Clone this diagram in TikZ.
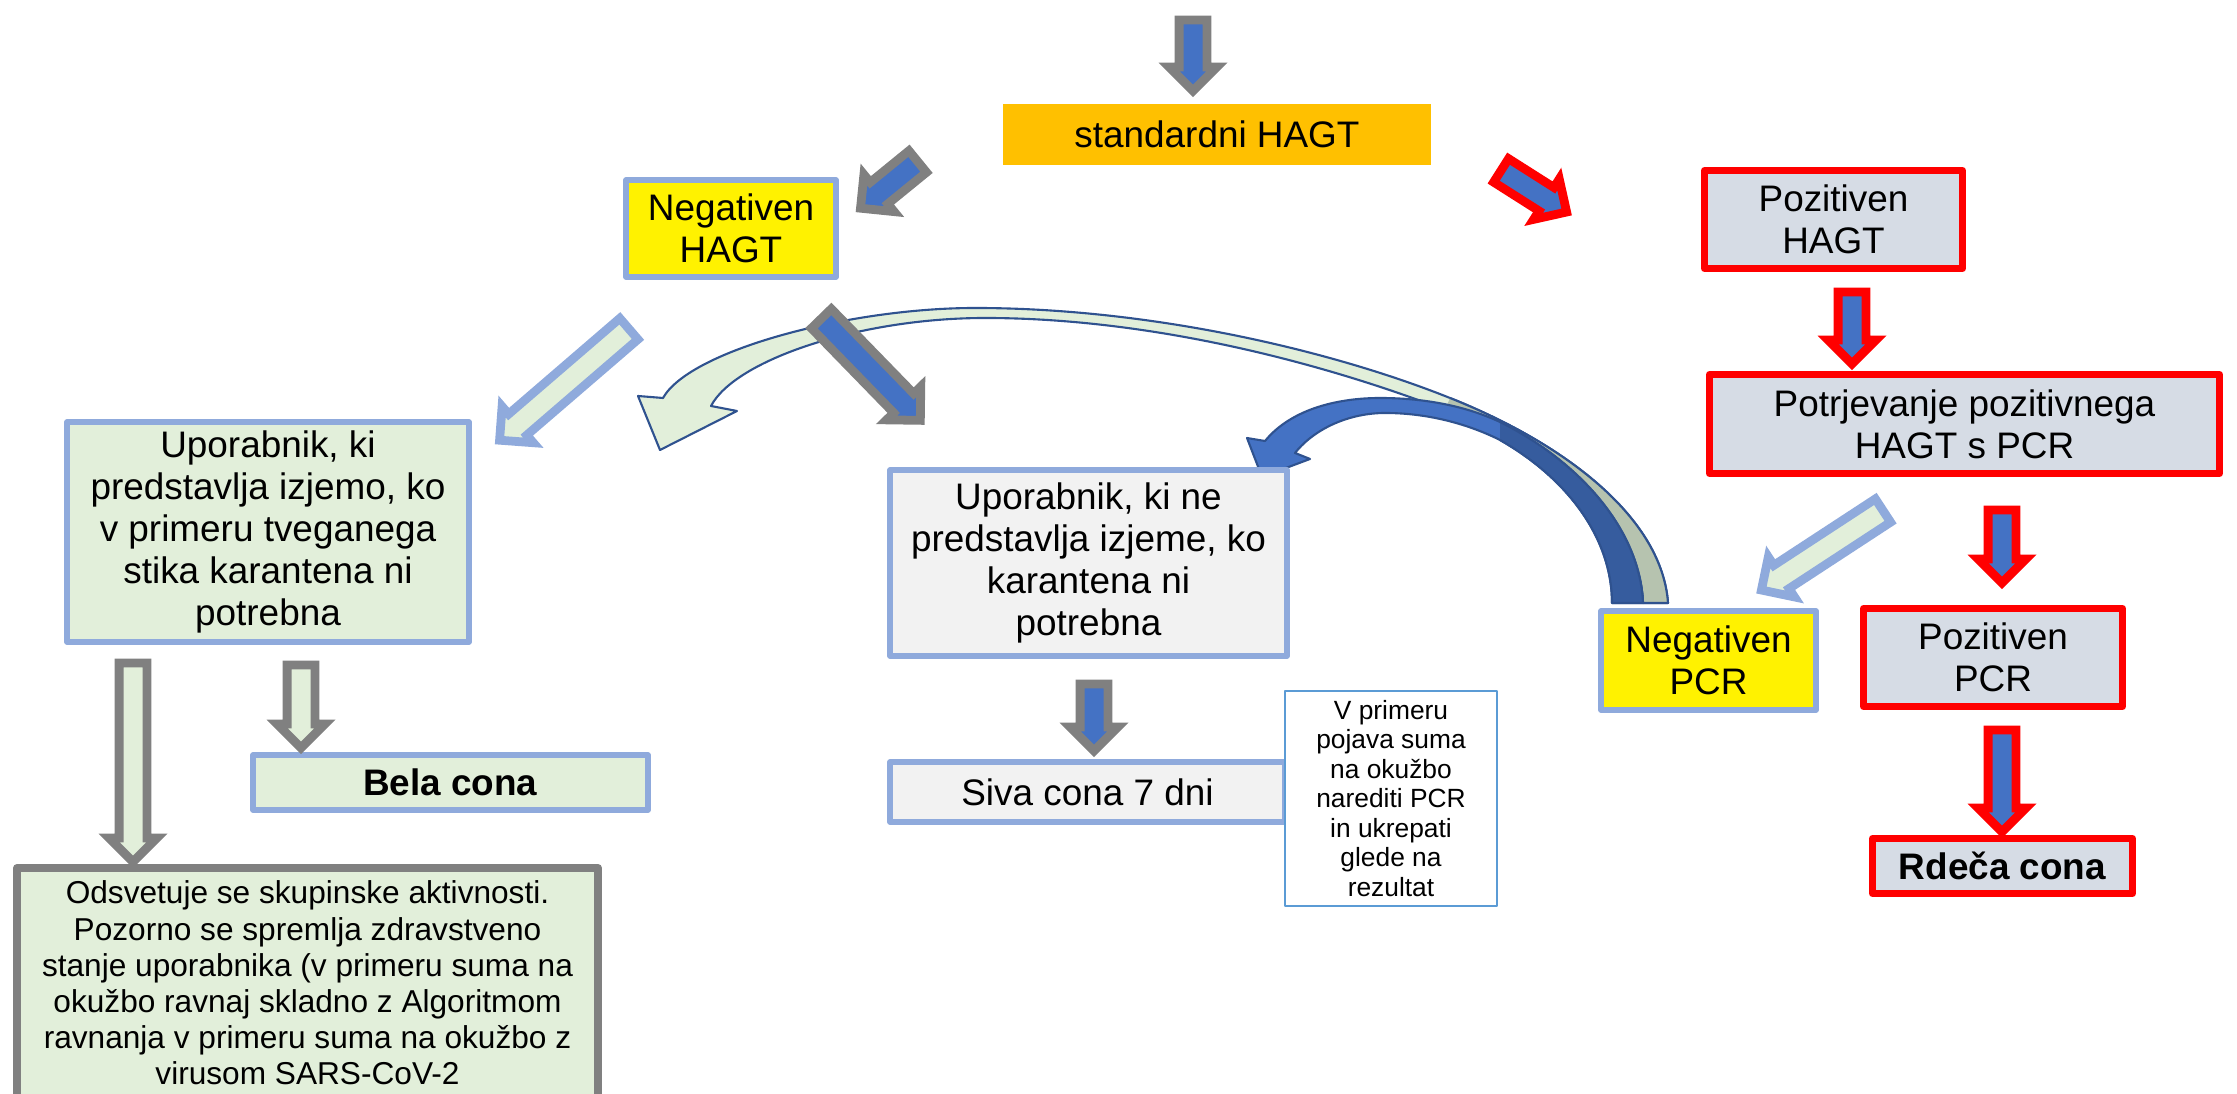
\documentclass[tikz,border=0pt]{standalone}
\usepackage{fontspec}
\setmainfont{Liberation Sans}
\usepackage{tikz}
\usetikzlibrary{calc}
\usetikzlibrary{shapes.arrows}

\definecolor{hagtorange}{HTML}{FFC000}
\definecolor{boxblue}{HTML}{8FAADC}
\definecolor{palegreen}{HTML}{E2EFDA}
\definecolor{palegrey}{HTML}{F2F2F2}
\definecolor{paleslate}{HTML}{D6DCE5}
\definecolor{arrowblue}{HTML}{4472C4}
\definecolor{arrowgrey}{HTML}{808080}
\definecolor{noteblue}{HTML}{5B9BD5}
\definecolor{curveline}{HTML}{2F528F}
\definecolor{backgreen}{HTML}{B6C3AF}
\definecolor{backblue}{HTML}{365C9E}

\tikzset{
  box/.style={draw=boxblue, line width=1.6pt, line join=round, align=center,
    inner sep=0pt, font=\fontsize{10.5}{12}\selectfont},
  redbox/.style={box, draw=red, line width=2pt, fill=paleslate},
  barrow/.style={single arrow, draw, line width=2.5pt, inner sep=0.95mm,
    minimum width=3.9mm, single arrow head extend=1mm,
    single arrow tip angle=90, outer sep=0pt},
  greyblue/.style={barrow, draw=arrowgrey, fill=arrowblue},
  redblue/.style={barrow, draw=red, fill=arrowblue},
  bluegreen/.style={barrow, draw=boxblue, fill=palegreen},
  greygreen/.style={barrow, draw=arrowgrey, fill=palegreen},
  curv/.style={draw=curveline, line width=0.6pt, line join=round}
}

% block arrow between two named points
\newcommand{\blockarrow}[3]{%
  \path let \p1=($(#3)-(#2)$), \n1={veclen(\x1,\y1)-1mm} in
    (#2) -- node[sloped, allow upside down, #1, minimum height=\n1] {} (#3);}

\begin{document}
\begin{tikzpicture}[x=0.1mm, y=-0.1mm]
        \useasboundingbox (0,0) rectangle (2237,1094);

        % curved arrows from Negativen PCR
        \draw[curv, fill=palegreen] (1668,603) .. controls (1662,520) and
        (1570,446) .. (1450,398) .. controls (1330,350) and (1150,308) ..
        (975,308) .. controls (850,308) and (690,350) .. (663,398) --
        (638,396) -- (660,450) -- (737,411) -- (711,406) .. controls
        (735,360) and (860,318) .. (985,318) .. controls (1150,318) and
        (1320,362) .. (1445,410) .. controls (1560,458) and (1640,525) ..
        (1643,603) -- cycle;
        \fill[backgreen] (1668,603) .. controls (1662,520) and (1570,446) ..
        (1450,398) -- (1445,410) .. controls (1560,458) and (1640,525) ..
        (1643,603) -- cycle;
        \draw[curv] (1643,603) .. controls (1640,525) and (1560,458) ..
        (1445,410); \draw[curv] (1450,398) .. controls (1570,446) and
        (1662,520) .. (1668,603) -- (1643,603);

        \draw[curv, fill=arrowblue] (1643,603) .. controls (1640,530) and
        (1580,462) .. (1500,422) .. controls (1470,408) and (1430,398) ..
        (1380,398) .. controls (1340,398) and (1292,408) .. (1265,441) --
        (1247,438) -- (1262,477) -- (1310,459) -- (1295,453) .. controls
        (1315,428) and (1350,413) .. (1385,413) .. controls (1430,413) and
        (1470,425) .. (1500,440) .. controls (1570,480) and (1612,540) ..
        (1612,603) -- cycle;
        \fill[backblue] (1643,603) .. controls (1640,530) and (1580,462) ..
        (1500,422) -- (1500,440) .. controls (1570,480) and (1612,540) ..
        (1612,603) -- cycle;
        \draw[curv] (1500,422) .. controls (1580,462) and (1640,530) ..
        (1643,603) -- (1612,603) .. controls (1612,540) and (1570,480) ..
        (1500,440);

        % boxes
        \node[box, draw=none, fill=hagtorange, minimum width=42.8mm,
        minimum height=6.1mm] (std) at (1217,134.5) {standardni HAGT};

        \node[box, fill=yellow, minimum width=21mm, minimum height=9.7mm]
        (neghagt) at (731,228.5) {Negativen\\HAGT};

        \node[redbox, minimum width=25.8mm, minimum height=9.8mm] (pozhagt)
        at (1833.5,219.5) {Pozitiven\\HAGT};

        \node[redbox, minimum width=51mm, minimum height=9.9mm] (potrj) at
        (1964.5,424) {Potrjevanje pozitivnega\\HAGT s PCR};

        \node[box, fill=yellow, minimum width=21.5mm, minimum height=9.9mm]
        (negpcr) at (1708.5,660.5) {Negativen\\PCR};

        \node[redbox, minimum width=25.9mm, minimum height=9.8mm] (pozpcr)
        at (1993,657.5) {Pozitiven\\PCR};

        \node[redbox, minimum width=26mm, minimum height=5.5mm] (rdeca) at
        (2002.5,866) {\textbf{Rdeča cona}};

        \node[box, fill=palegreen, minimum width=40.2mm, minimum height=22mm]
        (izjema) at (268,532) {Uporabnik, ki\\predstavlja izjemo, ko\\v
        primeru tveganega\\stika karantena ni\\potrebna};

        \node[box, fill=palegrey, minimum width=39.7mm, minimum height=18.6mm]
        (neizjema) at (1088.5,563) {Uporabnik, ki ne\\predstavlja izjeme,
        ko\\karantena ni\\potrebna};

        \node[box, fill=palegrey, minimum width=39.5mm, minimum height=6mm]
        (siva) at (1087.5,792) {Siva cona 7 dni};

        \node[box, draw=noteblue, line width=0.6pt, fill=white,
        minimum width=21.2mm, minimum height=21.5mm,
        font=\fontsize{7.5}{8.4}\selectfont] (opomba) at (1391,798.5) {V
        primeru\\pojava suma\\na okužbo\\narediti PCR\\in ukrepati\\glede
        na\\rezultat};

        \node[box, fill=palegreen, minimum width=39.5mm, minimum height=5.5mm]
        (bela) at (450.5,782.5) {\textbf{Bela cona}};

        \node[box, draw=arrowgrey, line width=2.3pt, fill=palegreen,
        anchor=north, minimum width=58.1mm, inner ysep=1.3mm,
        font=\fontsize{9}{10.3}\selectfont] (ods) at (307.5,864) {Odsvetuje
        se skupinske aktivnosti.\\Pozorno se spremlja zdravstveno\\stanje
        uporabnika (v primeru suma na\\okužbo ravnaj skladno z
        Algoritmom\\ravnanja v primeru suma na okužbo z\\virusom
        SARS-CoV-2\\[6mm]~};

        % block arrows
        \coordinate (top-s) at (1193,8); \coordinate (top-e) at (1193,89);
        \coordinate (neg-s) at (927,154); \coordinate (neg-e) at (862,207);
        \coordinate (poz-s) at (1491,164); \coordinate (poz-e) at (1565,211);
        \coordinate (potrj-s) at (1852,280); \coordinate (potrj-e) at (1852,362);
        \coordinate (negpcr-s) at (1893,504); \coordinate (negpcr-e) at (1763,589);
        \coordinate (pozpcr-s) at (2002,498); \coordinate (pozpcr-e) at (2002,581);
        \coordinate (rdeca-s) at (2002,718); \coordinate (rdeca-e) at (2002,830);
        \coordinate (izj-s) at (638,321); \coordinate (izj-e) at (501,439);
        \coordinate (neizj-s) at (813,310); \coordinate (neizj-e) at (919,419);
        \coordinate (siva-s) at (1094,672); \coordinate (siva-e) at (1094,749);
        \coordinate (ods-s) at (133,651); \coordinate (ods-e) at (133,860);
        \coordinate (bela-s) at (301,653); \coordinate (bela-e) at (301,746);

        \blockarrow{greyblue}{top-s}{top-e}
        \blockarrow{greyblue}{neg-s}{neg-e}
        \blockarrow{redblue}{poz-s}{poz-e}
        \blockarrow{redblue}{potrj-s}{potrj-e}
        \blockarrow{bluegreen}{negpcr-s}{negpcr-e}
        \blockarrow{redblue}{pozpcr-s}{pozpcr-e}
        \blockarrow{redblue}{rdeca-s}{rdeca-e}
        \blockarrow{bluegreen}{izj-s}{izj-e}
        \blockarrow{greyblue}{neizj-s}{neizj-e}
        \blockarrow{greyblue}{siva-s}{siva-e}
        \blockarrow{greygreen}{ods-s}{ods-e}
        \blockarrow{greygreen}{bela-s}{bela-e}
\end{tikzpicture}
\end{document}
